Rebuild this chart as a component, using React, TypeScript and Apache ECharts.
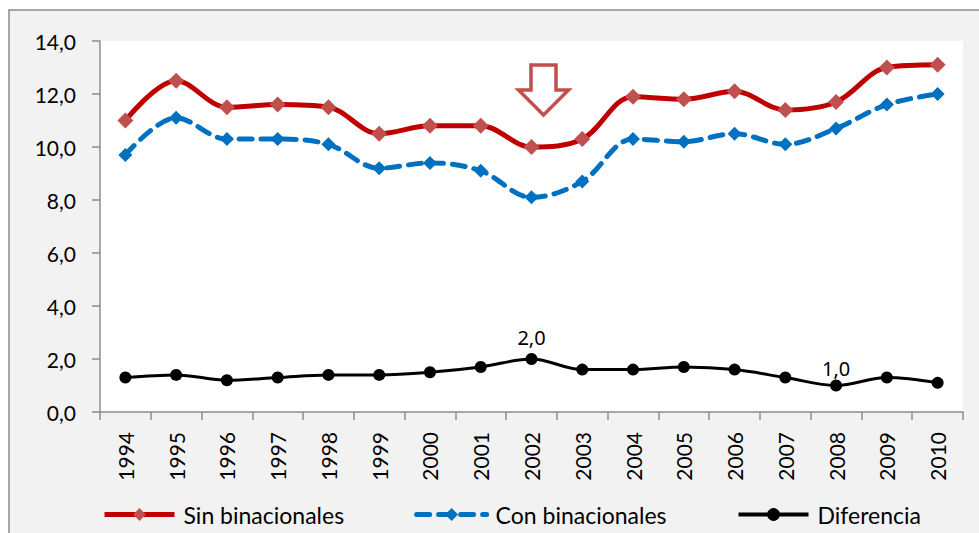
import React, { useEffect, useRef } from "react";
import * as echarts from "echarts";

const years = ["1994","1995","1996","1997","1998","1999","2000","2001","2002","2003","2004","2005","2006","2007","2008","2009","2010"];
const sinBinacionales = [11.0,12.5,11.5,11.6,11.5,10.5,10.8,10.8,10.0,10.3,11.9,11.8,12.1,11.4,11.7,13.0,13.1];
const conBinacionales = [9.7,11.1,10.3,10.3,10.1,9.2,9.4,9.1,8.1,8.7,10.3,10.2,10.5,10.1,10.7,11.6,12.0];
const diferencia = [1.3,1.4,1.2,1.3,1.4,1.4,1.5,1.7,2.0,1.6,1.6,1.7,1.6,1.3,1.0,1.3,1.1];
const labeledYears = ["2002", "2008"];
const seriesNames = ["Sin binacionales", "Con binacionales", "Diferencia"];
const arrowYear = "2002";
const arrowLevel = 12.15;

const fmt = (v: number) => v.toFixed(1).replace(".", ",");
const FONT = "Lato, 'DejaVu Sans', sans-serif";

export default function App() {
  const ref = useRef<HTMLDivElement>(null);
  useEffect(() => {
    if (!ref.current) return;
    const chart = echarts.init(ref.current, undefined, { renderer: "svg" });
    const difData = diferencia.map((v, i) =>
      labeledYears.includes(years[i])
        ? {
            value: v,
            label: {
              show: true,
              position: "top",
              distance: years[i] === "2002" ? 6 : 1,
              formatter: (p: any) => fmt(p.value),
              fontSize: 20,
              color: "#000",
              fontFamily: "'Noto Sans', sans-serif",
            },
          }
        : v
    );
    chart.setOption({
      animation: false,
      graphic: [
        {
          type: "rect",
          z: -10,
          silent: true,
          shape: { x: 9, y: 10, width: 1000, height: 600 },
          style: { fill: "#f2f2f2", stroke: "#8c8c8c", lineWidth: 1.5 },
        },
      ],
      grid: {
        left: 100,
        right: 16,
        top: 41,
        bottom: 121,
        show: true,
        backgroundColor: "#ffffff",
        borderWidth: 0,
      },
      legend: {
        left: 97,
        top: 498,
        itemWidth: 70,
        itemHeight: 16,
        itemGap: 70,
        textStyle: { fontSize: 23, color: "#000", fontFamily: FONT, padding: [0, 0, 0, 4] },
        data: [
          { name: seriesNames[0], lineStyle: { width: 5 } },
          { name: seriesNames[1], lineStyle: { width: 5 } },
          { name: seriesNames[2], lineStyle: { width: 4 } },
        ],
      },
      xAxis: {
        type: "category",
        data: years,
        boundaryGap: true,
        axisLine: { lineStyle: { color: "#8c8c8c", width: 1.5 } },
        axisTick: { show: true, length: 8, lineStyle: { color: "#8c8c8c", width: 1.5 } },
        axisLabel: {
          rotate: 90,
          interval: 0,
          margin: 20,
          fontSize: 21,
          color: "#000",
          fontFamily: FONT,
        },
        splitLine: { show: false },
      },
      yAxis: {
        type: "value",
        min: 0,
        max: 14,
        interval: 2,
        axisLine: { show: true, lineStyle: { color: "#8c8c8c", width: 1.5 } },
        axisTick: { show: true, length: 8, lineStyle: { color: "#8c8c8c", width: 1.5 } },
        axisLabel: {
          formatter: (v: number) => fmt(v),
          fontSize: 21,
          margin: 24,
          color: "#000",
          fontFamily: FONT,
        },
        splitLine: { show: false },
      },
      series: [
        {
          name: seriesNames[0],
          type: "line",
          data: sinBinacionales,
          smooth: 0.35,
          symbol: "diamond",
          symbolSize: 16,
          lineStyle: { color: "#c00000", width: 5 },
          itemStyle: { color: "#c0504d" },
          z: 3,
          markPoint: {
            silent: true,
            symbol: "path://M12.5,0 L37.5,0 L37.5,25 L50,25 L25,50 L0,25 L12.5,25 Z",
            symbolSize: [50, 50],
            symbolOffset: [12, 0],
            itemStyle: { color: "#ffffff", borderColor: "#c0504d", borderWidth: 3.5 },
            label: { show: false },
            data: [{ coord: [arrowYear, arrowLevel] }],
          },
        },
        {
          name: seriesNames[1],
          type: "line",
          data: conBinacionales,
          smooth: 0.35,
          symbol: "diamond",
          symbolSize: 14,
          lineStyle: { color: "#0070c0", width: 5, type: [13, 9], cap: "round" },
          itemStyle: { color: "#0070c0" },
          z: 2,
        },
        {
          name: seriesNames[2],
          type: "line",
          data: difData,
          smooth: 0.35,
          symbol: "circle",
          symbolSize: 12,
          lineStyle: { color: "#000", width: 3 },
          itemStyle: { color: "#000" },
          z: 4,
        },
      ],
    });
    return () => chart.dispose();
  }, []);
  return (
    <div
      ref={ref}
      style={{ position: "absolute", left: 0, top: 0, width: 979, height: 533 }}
    />
  );
}
